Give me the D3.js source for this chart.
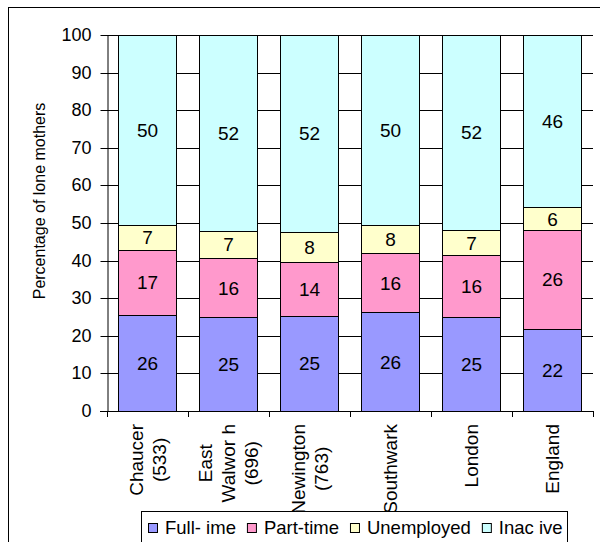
<!DOCTYPE html>
<html>
<head>
<meta charset="utf-8">
<script src="https://cdn.jsdelivr.net/npm/d3@7"></script>
<style>
  html, body { margin: 0; padding: 0; background: #fff; }
  svg { display: block; font-family: "Liberation Sans", Arial, sans-serif; }
</style>
</head>
<body>
<svg id="chart" width="600" height="542"></svg>
<script>
// ---- data ----
const categories = [
  ["Chaucer", "(533)"],
  ["East", "Walwor h", "(696)"],
  ["Newington", "(763)"],
  ["Southwark"],
  ["London"],
  ["England"]
];
const seriesNames = ["Full- ime", "Part-time", "Unemployed", "Inac ive"];
const fullTime   = [25.6, 25.0, 25.3, 26.2, 25.0, 21.9];
const partTime   = [17.3, 15.6, 14.2, 15.8, 16.4, 26.2];
const unemployed = [6.7, 7.4, 8.1, 7.6, 6.7, 6.1];
const inactive   = [50.4, 52.0, 52.4, 50.4, 51.9, 45.8];
const yTicks = [0, 10, 20, 30, 40, 50, 60, 70, 80, 90, 100];
const colors = ["#9999FF", "#FF99CC", "#FFFFCC", "#CCFFFF"];
const yTitle = "Percentage of lone mothers";

// ---- layout ----
const svg = d3.select("#chart");
const L = 107, R = 593, T = 35, B = 411;
const FS_TICK = 18, FS_DATA = 19, FS_CAT = 19, FS_LEG = 18.5;

// outer border (extends past the window on right and bottom)
svg.append("rect").attr("x", 8.5).attr("y", 7.5).attr("width", 620).attr("height", 560)
  .attr("fill", "#fff").attr("stroke", "#000").attr("stroke-width", 1);

const keys = categories.map((c, i) => i);
const x = d3.scaleBand().domain(keys).range([L, R]).paddingInner(0.28).paddingOuter(0.14);
const y = d3.scaleLinear().domain([0, 100]).range([B, T]);

const rows = keys.map(i => ({ i, s0: fullTime[i], s1: partTime[i], s2: unemployed[i], s3: inactive[i] }));
const stack = d3.stack().keys(["s0", "s1", "s2", "s3"]);
const layers = stack(rows);

// gridlines
svg.append("g").selectAll("line").data(yTicks.filter(v => v > 0)).join("line")
  .attr("x1", L).attr("x2", R)
  .attr("y1", d => Math.round(y(d)) + 0.5).attr("y2", d => Math.round(y(d)) + 0.5)
  .attr("stroke", "#000").attr("stroke-width", 1);

// y axis
const yAxis = svg.append("g").attr("transform", `translate(${L + 0.5},0)`)
  .call(d3.axisLeft(y).tickValues(yTicks).tickSize(7).tickPadding(9).tickSizeOuter(0));
yAxis.select(".domain").attr("stroke", "#000");
yAxis.selectAll(".tick line").attr("stroke", "#000");
yAxis.selectAll(".tick text").attr("font-size", FS_TICK).attr("fill", "#000")
  .attr("font-family", "Liberation Sans, Arial, sans-serif");
yAxis.selectAll(".tick").attr("transform", d => `translate(0,${Math.round(y(d)) + 0.5})`);

// bars
const g = svg.append("g");
layers.forEach((layer, k) => {
  g.selectAll(null).data(layer).join("rect")
    .attr("x", (d, j) => Math.round(x(j)) + 0.5)
    .attr("width", Math.round(x.bandwidth()))
    .attr("y", d => Math.round(y(d[1])) + 0.5)
    .attr("height", d => Math.round(y(d[0])) - Math.round(y(d[1])))
    .attr("fill", colors[k]).attr("stroke", "#000").attr("stroke-width", 1);
  g.selectAll(null).data(layer).join("text")
    .attr("x", (d, j) => x(j) + x.bandwidth() / 2)
    .attr("y", d => (y(d[0]) + y(d[1])) / 2)
    .attr("dy", "0.36em")
    .attr("text-anchor", "middle").attr("font-size", FS_DATA).attr("fill", "#000")
    .text(d => d3.format(".0f")(d[1] - d[0]));
});

// x axis line and ticks
const xa = svg.append("g");
xa.append("line").attr("x1", L - 7).attr("x2", R).attr("y1", B + 0.5).attr("y2", B + 0.5).attr("stroke", "#000");
const bounds = d3.range(categories.length + 1).map(i => L + i * x.step());
xa.selectAll(null).data(bounds).join("line")
  .attr("x1", d => Math.round(d) + 0.5).attr("x2", d => Math.round(d) + 0.5)
  .attr("y1", B).attr("y2", B + 6).attr("stroke", "#000");

// category labels (rotated, centered lines, anchored at top)
const lineGap = 23;
categories.forEach((lines, i) => {
  const cx = x(i) + x.bandwidth() / 2;
  const t = svg.append("text").attr("font-size", FS_CAT).attr("fill", "#000").attr("text-anchor", "middle");
  const n = lines.length;
  lines.forEach((ln, k) => {
    t.append("tspan").attr("x", 0).attr("y", (k - (n - 1) / 2) * lineGap + 0.36 * FS_CAT).text(ln);
  });
  let maxW = 0;
  t.selectAll("tspan").each(function () { maxW = Math.max(maxW, this.getComputedTextLength()); });
  t.attr("transform", `translate(${cx},${424 + maxW / 2}) rotate(-90)`);
});

// y axis title
svg.append("text").attr("transform", "translate(45,201) rotate(-90)")
  .attr("text-anchor", "middle").attr("font-size", 16).attr("fill", "#000").text(yTitle);

// legend
const lg = svg.append("g");
lg.append("rect").attr("x", 141.5).attr("y", 511.5).attr("width", 426).attr("height", 40)
  .attr("fill", "#fff").attr("stroke", "#000");
let lx = 148;
seriesNames.forEach((nm, k) => {
  lg.append("rect").attr("x", lx + 0.5).attr("y", 523.5).attr("width", 9).attr("height", 9)
    .attr("fill", colors[k]).attr("stroke", "#000");
  const tx = lg.append("text").attr("x", lx + 17).attr("y", 534).attr("font-size", FS_LEG).attr("fill", "#000").text(nm);
  lx = lx + 17 + tx.node().getComputedTextLength() + 11;
});
</script>
</body>
</html>
